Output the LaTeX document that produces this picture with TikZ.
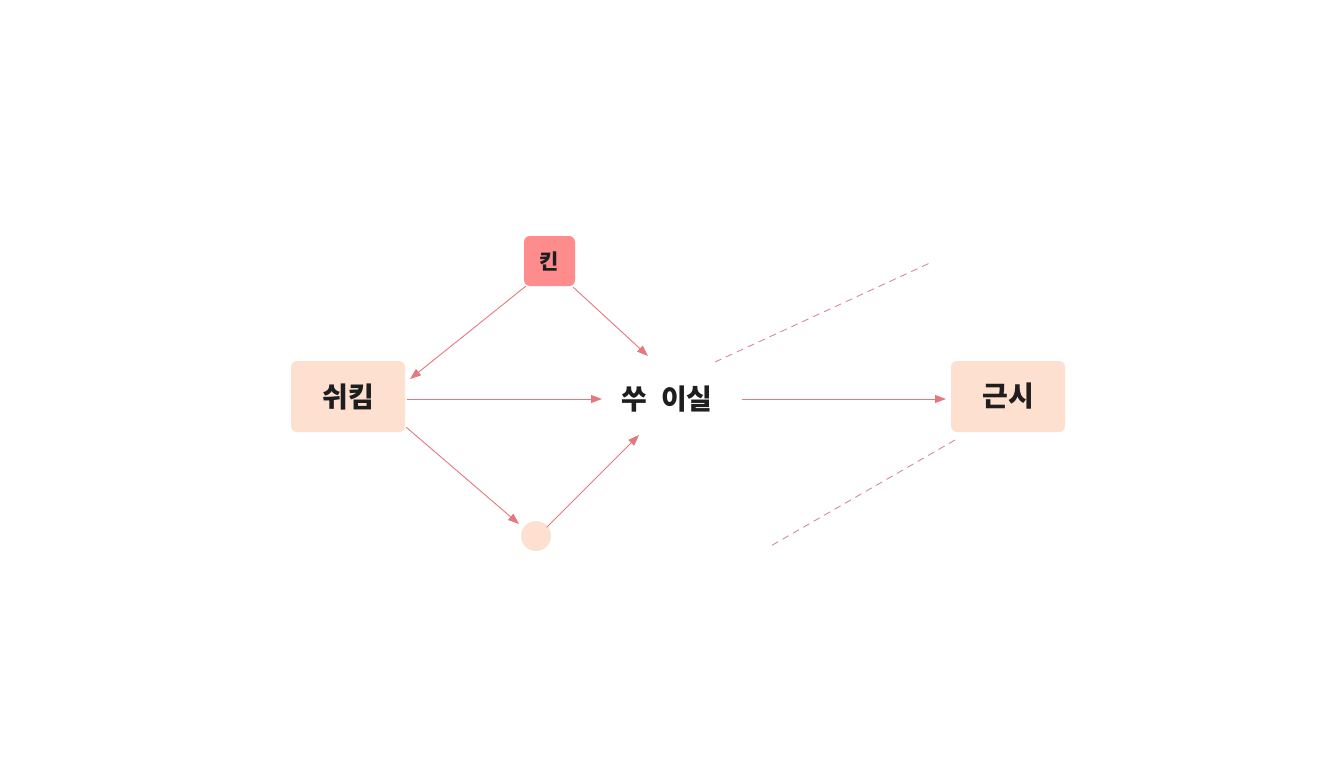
\documentclass[tikz,border=0pt]{standalone}
\usepackage{fontspec}
\newfontfamily\kr{Noto Sans CJK KR}
\usetikzlibrary{arrows.meta}
\definecolor{boxpeach}{HTML}{FDE0CF}
\definecolor{boxred}{HTML}{FF8C8C}
\definecolor{linered}{HTML}{E5787F}
\definecolor{dashred}{HTML}{D98A94}
\definecolor{txt}{HTML}{1E1E1E}
\tikzset{
  peach/.style={draw=none, fill=boxpeach, rounded corners=6pt, minimum width=114pt, minimum height=71pt, inner sep=0pt, text=txt, font=\kr\bfseries\fontsize{28}{30}\selectfont},
  redbox/.style={draw=none, fill=boxred, rounded corners=6pt, minimum width=51pt, minimum height=50pt, inner sep=0pt, text=txt, font=\kr\bfseries\fontsize{21}{24}\selectfont},
  plain/.style={inner sep=0pt, text=txt, font=\kr\bfseries\fontsize{28}{30}\selectfont},
  dot/.style={circle, fill=boxpeach, draw=none, minimum size=30pt, inner sep=0pt},
  conn/.style={draw=linered, line width=0.9pt, -{Triangle[length=11pt,width=8pt]}},
  dashconn/.style={draw=dashred, line width=0.9pt, dash pattern=on 7pt off 5pt},
}
\begin{document}
\begin{tikzpicture}[x=1pt,y=-1pt]
\useasboundingbox[fill=white] (0,0) rectangle (1344,768);
\node[redbox] (kin) at (549.5,261) {킨};
\node[peach] (swi) at (348,396.5) {쉬킴};
\node[plain] (ssu) at (667,399) {쑤\hspace{14pt}이실};
\node[peach] (geun) at (1008,396.5) {근시};
\node[dot] (dot) at (536,536) {};
\coordinate (a1) at (410,379);
\coordinate (a2) at (648,356);
\coordinate (a3) at (602,399);
\coordinate (a4) at (519,524);
\coordinate (a5) at (639,435);
\coordinate (a6s) at (742,399);
\coordinate (a6e) at (946,399);
\coordinate (d1s) at (715,362);
\coordinate (d1e) at (932,262);
\coordinate (d2s) at (955,440);
\coordinate (d2e) at (769,547);
\draw[conn] (kin.south west) ++(2,0) -- (a1);
\draw[conn] (kin.south east) ++(-2,1) -- (a2);
\draw[conn] (swi.east |- a3) ++(2,0) -- (a3);
\draw[conn] (swi.south east) ++(1,-5) -- (a4);
\draw[conn] (dot.north east) ++(0,2) -- (a5);
\draw[conn] (a6s) -- (a6e);
\draw[dashconn] (d1s) -- (d1e);
\draw[dashconn] (d2s) -- (d2e);
\end{tikzpicture}
\end{document}
